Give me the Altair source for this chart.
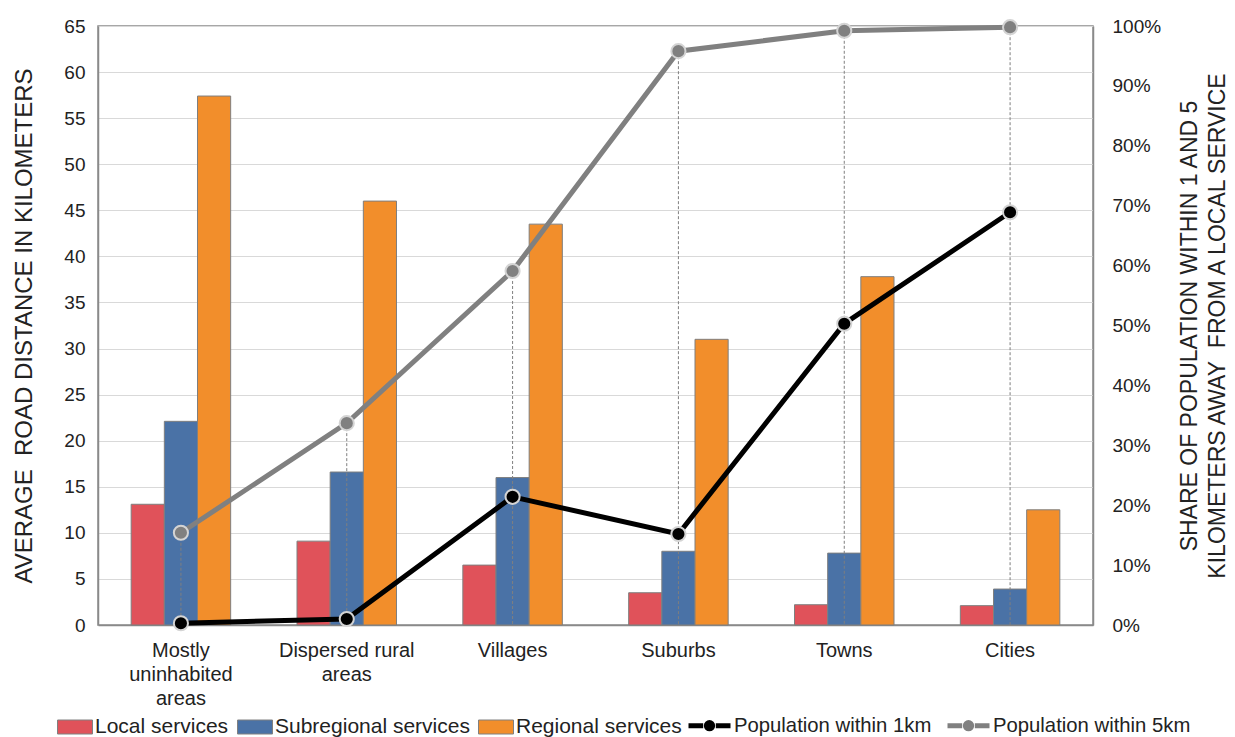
import altair as alt
import pandas as pd

categories = ["Mostly uninhabited areas", "Dispersed rural areas", "Villages", "Suburbs", "Towns", "Cities"]
bar_series = ["Local services", "Subregional services", "Regional services"]
local_km = [13.1, 9.1, 6.5, 3.5, 2.2, 2.1]
subregional_km = [22.1, 16.6, 16.0, 8.0, 7.8, 3.9]
regional_km = [57.4, 46.0, 43.5, 31.0, 37.8, 12.5]
line_series = ["Population within 1km", "Population within 5km"]
pop_1km = [0.003, 0.010, 0.214, 0.152, 0.503, 0.689]
pop_5km = [0.154, 0.337, 0.591, 0.958, 0.992, 0.998]

bar_colors = ["#e0525a", "#4a72a6", "#f28e2b"]
line_colors = ["#000000", "#808080"]

bars_df = pd.DataFrame(
    [
        {"category": c, "series": s, "value": v}
        for s, vals in zip(bar_series, [local_km, subregional_km, regional_km])
        for c, v in zip(categories, vals)
    ]
)
lines_df = pd.DataFrame(
    [
        {"category": c, "series": s, "pct": v}
        for s, vals in zip(line_series, [pop_1km, pop_5km])
        for c, v in zip(categories, vals)
    ]
)
drop_df = pd.DataFrame({"category": categories, "pct": pop_5km})

FONT = "Liberation Sans"
GRID = "#d9d9d9"
FRAME = "#8a8a8a"
NB = "\u00a0"

label_expr = (
    "datum.value == 'Mostly uninhabited areas' ? ['Mostly', 'uninhabited', 'areas'] : "
    "datum.value == 'Dispersed rural areas' ? ['Dispersed rural', 'areas'] : datum.value"
)

x_enc = alt.X(
    "category:N",
    sort=categories,
    scale=alt.Scale(paddingInner=0.4, paddingOuter=0.2),
    axis=alt.Axis(
        title=None,
        labelExpr=label_expr,
        labelAngle=0,
        labelFontSize=20,
        labelLineHeight=24,
        labelPadding=15,
        labelColor="#222222",
        labelFont=FONT,
        ticks=False,
        domainColor=FRAME,
        domainWidth=1.5,
        grid=False,
    ),
)

bar_rect = "M-1,-0.4H1V0.4H-1Z"
line_sym = "M-1,0H-0.3M0.3,0H1M0.15,0A0.15,0.15,0,1,1,-0.15,0A0.15,0.15,0,1,1,0.15,0"

bars = alt.Chart(bars_df).mark_bar(stroke="#7f7f7f", strokeWidth=1).encode(
    x=x_enc,
    xOffset=alt.XOffset("series:N", sort=bar_series, scale=alt.Scale(paddingInner=0, paddingOuter=0)),
    y=alt.Y(
        "value:Q",
        scale=alt.Scale(domain=[0, 65], nice=False),
        axis=alt.Axis(
            orient="left",
            values=list(range(0, 70, 5)),
            title="AVERAGE" + NB + " ROAD DISTANCE IN KILOMETERS",
            titleFontSize=24,
            titleFontWeight="normal",
            titleColor="#222222",
            titleFont=FONT,
            titlePadding=27,
            labelFontSize=19,
            labelColor="#222222",
            labelFont=FONT,
            labelPadding=13,
            ticks=False,
            domainColor=FRAME,
            domainWidth=1.5,
            grid=True,
            gridColor=GRID,
            gridWidth=1.2,
        ),
    ),
    color=alt.Color(
        "series:N",
        sort=bar_series,
        scale=alt.Scale(domain=bar_series, range=bar_colors),
        legend=alt.Legend(
            title=None,
            orient="none",
            direction="horizontal",
            legendX=-41,
            legendY=683,
            symbolType=bar_rect,
            symbolSize=1225,
            symbolStrokeColor="#808080",
            symbolStrokeWidth=1,
            labelFontSize=21,
            labelFont=FONT,
            labelColor="#222222",
            labelOffset=2,
            labelLimit=400,
            columnPadding=6,
            padding=0,
        ),
    ),
)

y_pct = alt.Y(
    "pct:Q",
    scale=alt.Scale(domain=[0, 1], nice=False),
    axis=alt.Axis(
        orient="right",
        values=[i / 10 for i in range(11)],
        format=".0%",
        title=["SHARE OF POPULATION WITHIN 1 AND 5", "KILOMETERS AWAY" + NB + " FROM A LOCAL SERVICE"],
        titleAngle=270,
        titleBaseline="top",
        titleLineHeight=28,
        titleFontSize=23,
        titleFontWeight="normal",
        titleColor="#222222",
        titleFont=FONT,
        titlePadding=-10,
        labelFontSize=19,
        labelColor="#222222",
        labelFont=FONT,
        labelPadding=19,
        ticks=False,
        domainColor=FRAME,
        domainWidth=1.5,
        grid=False,
    ),
)

drops = alt.Chart(drop_df).mark_rule(color="#7f7f7f", strokeWidth=1, strokeDash=[3, 2]).encode(
    x=x_enc,
    y=y_pct,
    y2=alt.datum(0),
)

lines = alt.Chart(lines_df).mark_line(strokeWidth=5).encode(
    x=x_enc,
    y=y_pct,
    stroke=alt.Stroke(
        "series:N",
        sort=line_series,
        scale=alt.Scale(domain=line_series, range=line_colors),
        legend=alt.Legend(
            title=None,
            orient="none",
            direction="horizontal",
            legendX=588,
            legendY=676,
            symbolType=line_sym,
            symbolSize=1764,
            symbolStrokeWidth=5,
            labelFontSize=20.3,
            labelFont=FONT,
            labelColor="#222222",
            labelOffset=1,
            labelLimit=400,
            columnPadding=5,
            padding=0,
        ),
    ),
    detail="series:N",
)

points = alt.Chart(lines_df).mark_point(filled=True, size=200, stroke="#d4d4d4", strokeWidth=2, opacity=1).encode(
    x=x_enc,
    y=y_pct,
    fill=alt.Fill(
        "series:N",
        sort=line_series,
        scale=alt.Scale(domain=line_series, range=line_colors),
        legend=None,
    ),
)

right = alt.layer(drops, lines, points)

chart = (
    alt.layer(bars, right)
    .resolve_scale(y="independent", color="independent")
    .properties(
        width=995,
        height=599,
        autosize=alt.AutoSizeParams(type="none"),
        padding={"left": 90, "top": 18, "right": 134, "bottom": 112},
    )
    .configure(font=FONT, background="white")
    .configure_view(stroke=FRAME, strokeWidth=1.5)
)

chart.save("out.html", embed_options={"renderer": "svg", "actions": False})
